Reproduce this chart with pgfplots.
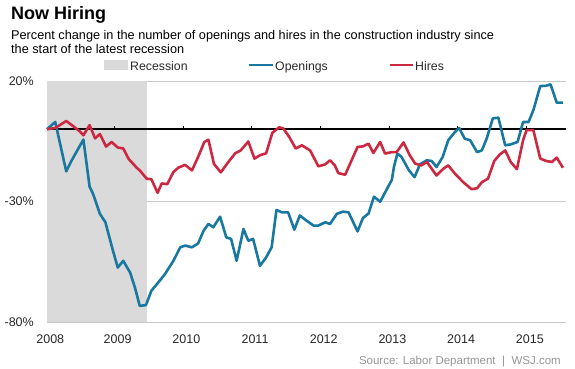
\documentclass[border=0pt]{standalone}
\usepackage{pgfplots}
\pgfplotsset{compat=1.18}
\usepackage{fontspec}
\setmainfont{Liberation Sans}
\definecolor{wsjblue}{RGB}{25,120,160}
\definecolor{wsjred}{RGB}{205,40,65}
\definecolor{recgray}{RGB}{218,218,218}
\definecolor{gridgray}{RGB}{200,200,200}
\definecolor{txt}{RGB}{40,40,40}
\definecolor{srcgray}{RGB}{150,150,150}
\begin{document}
\begin{tikzpicture}
\path[use as bounding box] (0,0) rectangle (575pt,368pt);
% titles
\node[anchor=base west, inner sep=0pt, font=\fontsize{18pt}{20pt}\selectfont\bfseries] at (11pt,349pt) {Now Hiring};
\node[anchor=base west, inner sep=0pt, font=\fontsize{12.7pt}{15pt}\selectfont] at (11pt,329pt) {Percent change in the number of openings and hires in the construction industry since};
\node[anchor=base west, inner sep=0pt, font=\fontsize{12.7pt}{15pt}\selectfont] at (11pt,314.7pt) {the start of the latest recession};
% legend
\fill[recgray] (104pt,298pt) rectangle (128pt,308pt);
\node[anchor=base west, inner sep=0pt, text=txt, font=\fontsize{12.3pt}{14pt}\selectfont] at (130pt,297.5pt) {Recession};
\draw[wsjblue, line width=2.6pt] (249pt,303pt) -- (273pt,303pt);
\node[anchor=base west, inner sep=0pt, text=txt, font=\fontsize{12.3pt}{14pt}\selectfont] at (275pt,297.5pt) {Openings};
\draw[wsjred, line width=2.6pt] (390pt,303pt) -- (413pt,303pt);
\node[anchor=base west, inner sep=0pt, text=txt, font=\fontsize{12.3pt}{14pt}\selectfont] at (415pt,297.5pt) {Hires};
% source
\node[anchor=base east, inner sep=0pt, text=srcgray, font=\fontsize{11.5pt}{13pt}\selectfont] at (561pt,4pt) {Source: Labor Department\hspace{6.5pt}|\hspace{6.5pt}WSJ.com};
\begin{axis}[
  at={(47pt,46pt)}, anchor=south west,
  scale only axis, width=519pt, height=241pt,
  xmin=2008.02, xmax=2015.575, ymin=-80, ymax=20,
  axis line style={draw=none},
  major tick length=0pt,
  xtick={2008.02,2009,2010,2011,2012,2013,2014,2015},
  xticklabels={2008,2009,2010,2011,2012,2013,2014,2015},
  ytick={-80,-30,20},
  yticklabels={-80\%,-30\%,20\%},
  ymajorgrids,
  grid style={gridgray, line width=0.9pt},
  tick label style={font=\fontsize{12.5pt}{14pt}\selectfont, text=txt, inner sep=0pt},
  xticklabel style={anchor=north, yshift=-13pt, xshift=3.3pt},
  yticklabel style={anchor=east, xshift=-13pt},
  clip=false,
]
\addplot[fill=recgray, draw=none] coordinates {(2008.02,-80) (2008.02,20) (2009.48,20) (2009.48,-80)};
\draw[black, line width=1.6pt] (axis cs:2008.02,0) -- (axis cs:2015.575,0);
\pgfplotsinvokeforeach{2009,2010,2011,2012,2013,2014,2015}{
  \draw[black, line width=1pt] (axis cs:#1,0) -- ++(0pt,3.5pt);
}
\addplot[wsjblue, line width=2.6pt, line join=round] coordinates {
(2008.02,0) (2008.14,3.0) (2008.30,-17.5) (2008.38,-12.9) (2008.55,-4.3) (2008.64,-23.8) (2008.69,-26.8) (2008.79,-35.1) (2008.87,-38.6) (2008.98,-50.4) (2009.05,-57.4) (2009.13,-54.6) (2009.23,-59.5) (2009.30,-65.7) (2009.37,-73.3) (2009.46,-73.0) (2009.54,-67.0) (2009.64,-63.6) (2009.74,-60.0) (2009.86,-54.6) (2009.96,-49.0) (2010.03,-48.3) (2010.13,-49.0) (2010.22,-47.4) (2010.30,-42.1) (2010.37,-39.3) (2010.44,-40.7) (2010.54,-36.3) (2010.63,-44.9) (2010.70,-45.5) (2010.78,-54.6) (2010.88,-41.4) (2010.95,-46.3) (2011.02,-45.5) (2011.12,-56.7) (2011.21,-53.2) (2011.29,-49.0) (2011.36,-33.5) (2011.44,-34.5) (2011.53,-34.5) (2011.62,-41.7) (2011.70,-35.8) (2011.80,-38.0) (2011.90,-40.0) (2011.97,-40.0) (2012.07,-38.6) (2012.14,-39.3) (2012.24,-35.1) (2012.33,-34.2) (2012.41,-34.5) (2012.54,-42.4) (2012.62,-36.8) (2012.70,-35.0) (2012.78,-28.0) (2012.87,-30.1) (2012.97,-24.7) (2013.04,-21.0) (2013.07,-15.7) (2013.12,-10.1) (2013.18,-11.5) (2013.29,-17.1) (2013.37,-19.9) (2013.45,-14.5) (2013.55,-12.9) (2013.62,-13.2) (2013.69,-15.7) (2013.78,-11.5) (2013.86,-4.6) (2013.96,-1.1) (2014.02,0.5) (2014.10,-3.9) (2014.18,-4.6) (2014.28,-9.5) (2014.35,-8.8) (2014.42,-3.9) (2014.51,4.5) (2014.59,4.8) (2014.69,-6.7) (2014.77,-6.3) (2014.87,-5.3) (2014.95,3.0) (2015.03,3.0) (2015.10,7.9) (2015.20,17.9) (2015.28,18.0) (2015.35,18.6) (2015.44,11.0) (2015.53,11.0)
};
\addplot[wsjred, line width=2.6pt, line join=round] coordinates {
(2008.02,0) (2008.14,0.5) (2008.30,3.4) (2008.40,1.3) (2008.50,-1.0) (2008.55,-2.5) (2008.64,1.7) (2008.72,-3.8) (2008.79,-2.0) (2008.88,-7.2) (2008.96,-5.3) (2009.05,-7.6) (2009.13,-8.0) (2009.21,-12.4) (2009.32,-15.8) (2009.38,-17.4) (2009.47,-20.5) (2009.54,-20.8) (2009.63,-26.4) (2009.69,-22.5) (2009.77,-22.8) (2009.86,-17.8) (2009.93,-16.0) (2010.03,-14.8) (2010.13,-17.1) (2010.22,-11.5) (2010.31,-5.3) (2010.37,-4.4) (2010.45,-14.4) (2010.55,-17.9) (2010.66,-13.6) (2010.76,-10.0) (2010.84,-8.8) (2010.95,-5.1) (2011.04,-12.2) (2011.12,-10.8) (2011.21,-10.0) (2011.30,-1.5) (2011.40,0.8) (2011.46,0.3) (2011.55,-3.4) (2011.64,-8.0) (2011.73,-6.7) (2011.85,-8.8) (2011.97,-15.4) (2012.07,-14.6) (2012.14,-12.9) (2012.21,-15.0) (2012.26,-18.2) (2012.36,-18.9) (2012.54,-7.4) (2012.62,-7.1) (2012.70,-6.0) (2012.77,-9.9) (2012.87,-5.3) (2012.94,-10.1) (2013.04,-9.5) (2013.11,-9.5) (2013.21,-5.5) (2013.30,-10.8) (2013.38,-14.3) (2013.47,-15.0) (2013.55,-13.6) (2013.62,-16.4) (2013.69,-19.2) (2013.79,-16.4) (2013.86,-15.0) (2013.96,-18.5) (2014.08,-22.0) (2014.20,-24.9) (2014.28,-24.5) (2014.35,-22.0) (2014.44,-20.5) (2014.53,-13.2) (2014.61,-10.5) (2014.69,-8.8) (2014.77,-13.6) (2014.86,-16.6) (2014.95,-4.6) (2015.00,-0.4) (2015.10,-0.4) (2015.20,-12.2) (2015.29,-13.2) (2015.37,-13.6) (2015.44,-11.8) (2015.53,-16.0)
};
\end{axis}
\end{tikzpicture}
\end{document}
